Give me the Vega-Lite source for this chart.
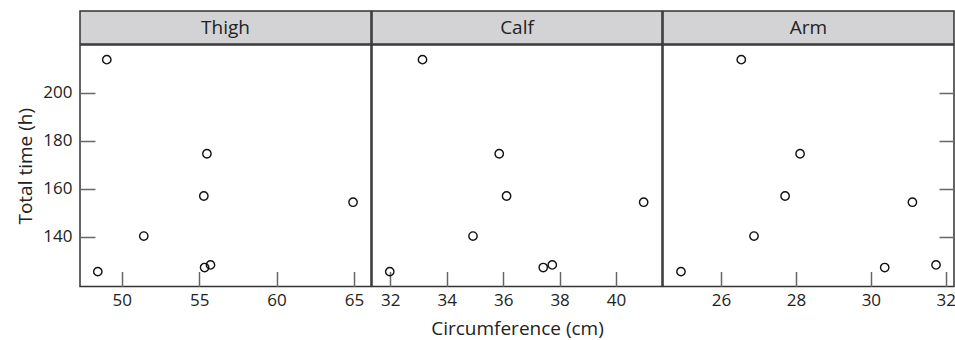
{
  "$schema": "https://vega.github.io/schema/vega-lite/v6.json",
  "padding": {"left": 16, "top": 10, "right": 2, "bottom": 5},
  "spacing": -1.5,
  "data": {"values": [
    {"variable": "Thigh", "circ": 48.45, "time": 125.5},
    {"variable": "Thigh", "circ": 49.03, "time": 213.8},
    {"variable": "Thigh", "circ": 51.42, "time": 140.3},
    {"variable": "Thigh", "circ": 55.3, "time": 157.0},
    {"variable": "Thigh", "circ": 55.5, "time": 174.6},
    {"variable": "Thigh", "circ": 55.35, "time": 127.2},
    {"variable": "Thigh", "circ": 55.73, "time": 128.3},
    {"variable": "Thigh", "circ": 64.94, "time": 154.4},
    {"variable": "Calf", "circ": 31.98, "time": 125.5},
    {"variable": "Calf", "circ": 33.14, "time": 213.8},
    {"variable": "Calf", "circ": 34.93, "time": 140.3},
    {"variable": "Calf", "circ": 35.86, "time": 174.6},
    {"variable": "Calf", "circ": 36.12, "time": 157.0},
    {"variable": "Calf", "circ": 37.42, "time": 127.2},
    {"variable": "Calf", "circ": 37.74, "time": 128.3},
    {"variable": "Calf", "circ": 40.98, "time": 154.4},
    {"variable": "Arm", "circ": 24.93, "time": 125.5},
    {"variable": "Arm", "circ": 26.54, "time": 213.8},
    {"variable": "Arm", "circ": 26.88, "time": 140.3},
    {"variable": "Arm", "circ": 27.71, "time": 157.0},
    {"variable": "Arm", "circ": 28.11, "time": 174.6},
    {"variable": "Arm", "circ": 30.37, "time": 127.2},
    {"variable": "Arm", "circ": 31.11, "time": 154.4},
    {"variable": "Arm", "circ": 31.74, "time": 128.3}
  ]},
  "config": {
    "font": "Open Sans",
    "view": {"stroke": "#333333", "strokeWidth": 1.5},
    "axis": {
      "grid": false,
      "domain": false,
      "tickColor": "#666666",
      "tickWidth": 1.5,
      "tickSize": -15,
      "labelFont": "Open Sans",
      "labelFontSize": 17,
      "labelColor": "#222222",
      "titleFont": "Open Sans",
      "titleFontSize": 19,
      "titleFontWeight": "normal",
      "titleColor": "#222222"
    },
    "axisX": {"labelPadding": 21, "titlePadding": 11},
    "axisY": {"labelPadding": 23, "titlePadding": 7}
  },
  "hconcat": [
    {
      "spacing": -1.5,
      "vconcat": [
        {
          "width": 291, "height": 33,
          "view": {"fill": "#d3d3d5", "stroke": "#333333", "strokeWidth": 1.5},
          "transform": [{"filter": "datum.variable === 'Thigh'"}, {"aggregate": [{"op": "count", "as": "n"}], "groupby": ["variable"]}],
          "mark": {"type": "text", "fontSize": 19, "color": "#222222", "font": "Open Sans"},
          "encoding": {"text": {"field": "variable", "type": "nominal"}}
        },
        {
          "width": 291, "height": 241.5,
          "transform": [{"filter": "datum.variable === 'Thigh'"}],
          "mark": {"type": "point", "shape": "circle", "filled": false, "color": "#111111", "strokeWidth": 1.4, "size": 70, "opacity": 1},
          "encoding": {
            "x": {"field": "circ", "type": "quantitative", "scale": {"domain": [47.3, 66.1], "nice": false, "zero": false}, "axis": {"values": [50, 55, 60, 65], "title": null}},
            "y": {"field": "time", "type": "quantitative", "scale": {"domain": [119.3, 219.9], "nice": false, "zero": false}, "axis": {"values": [140, 160, 180, 200], "title": "Total time (h)"}}
          }
        }
      ]
    },
    {
      "spacing": -1.5,
      "vconcat": [
        {
          "width": 290, "height": 33,
          "view": {"fill": "#d3d3d5", "stroke": "#333333", "strokeWidth": 1.5},
          "transform": [{"filter": "datum.variable === 'Calf'"}, {"aggregate": [{"op": "count", "as": "n"}], "groupby": ["variable"]}],
          "mark": {"type": "text", "fontSize": 19, "color": "#222222", "font": "Open Sans"},
          "encoding": {"text": {"field": "variable", "type": "nominal"}}
        },
        {
          "width": 290, "height": 241.5,
          "transform": [{"filter": "datum.variable === 'Calf'"}],
          "mark": {"type": "point", "shape": "circle", "filled": false, "color": "#111111", "strokeWidth": 1.4, "size": 70, "opacity": 1},
          "encoding": {
            "x": {"field": "circ", "type": "quantitative", "scale": {"domain": [31.35, 41.63], "nice": false, "zero": false}, "axis": {"values": [32, 34, 36, 38, 40], "title": "Circumference (cm)"}},
            "y": {"field": "time", "type": "quantitative", "scale": {"domain": [119.3, 219.9], "nice": false, "zero": false}, "axis": null}
          }
        }
      ]
    },
    {
      "spacing": -1.5,
      "vconcat": [
        {
          "width": 291, "height": 33,
          "view": {"fill": "#d3d3d5", "stroke": "#333333", "strokeWidth": 1.5},
          "transform": [{"filter": "datum.variable === 'Arm'"}, {"aggregate": [{"op": "count", "as": "n"}], "groupby": ["variable"]}],
          "mark": {"type": "text", "fontSize": 19, "color": "#222222", "font": "Open Sans"},
          "encoding": {"text": {"field": "variable", "type": "nominal"}}
        },
        {
          "width": 291, "height": 241.5,
          "transform": [{"filter": "datum.variable === 'Arm'"}],
          "mark": {"type": "point", "shape": "circle", "filled": false, "color": "#111111", "strokeWidth": 1.4, "size": 70, "opacity": 1},
          "encoding": {
            "x": {"field": "circ", "type": "quantitative", "scale": {"domain": [24.45, 32.22], "nice": false, "zero": false}, "axis": {"values": [26, 28, 30, 32], "title": null}},
            "y": {"field": "time", "type": "quantitative", "scale": {"domain": [119.3, 219.9], "nice": false, "zero": false}, "axis": {"orient": "right", "values": [140, 160, 180, 200], "labels": false, "title": null}}
          }
        }
      ]
    }
  ]
}
